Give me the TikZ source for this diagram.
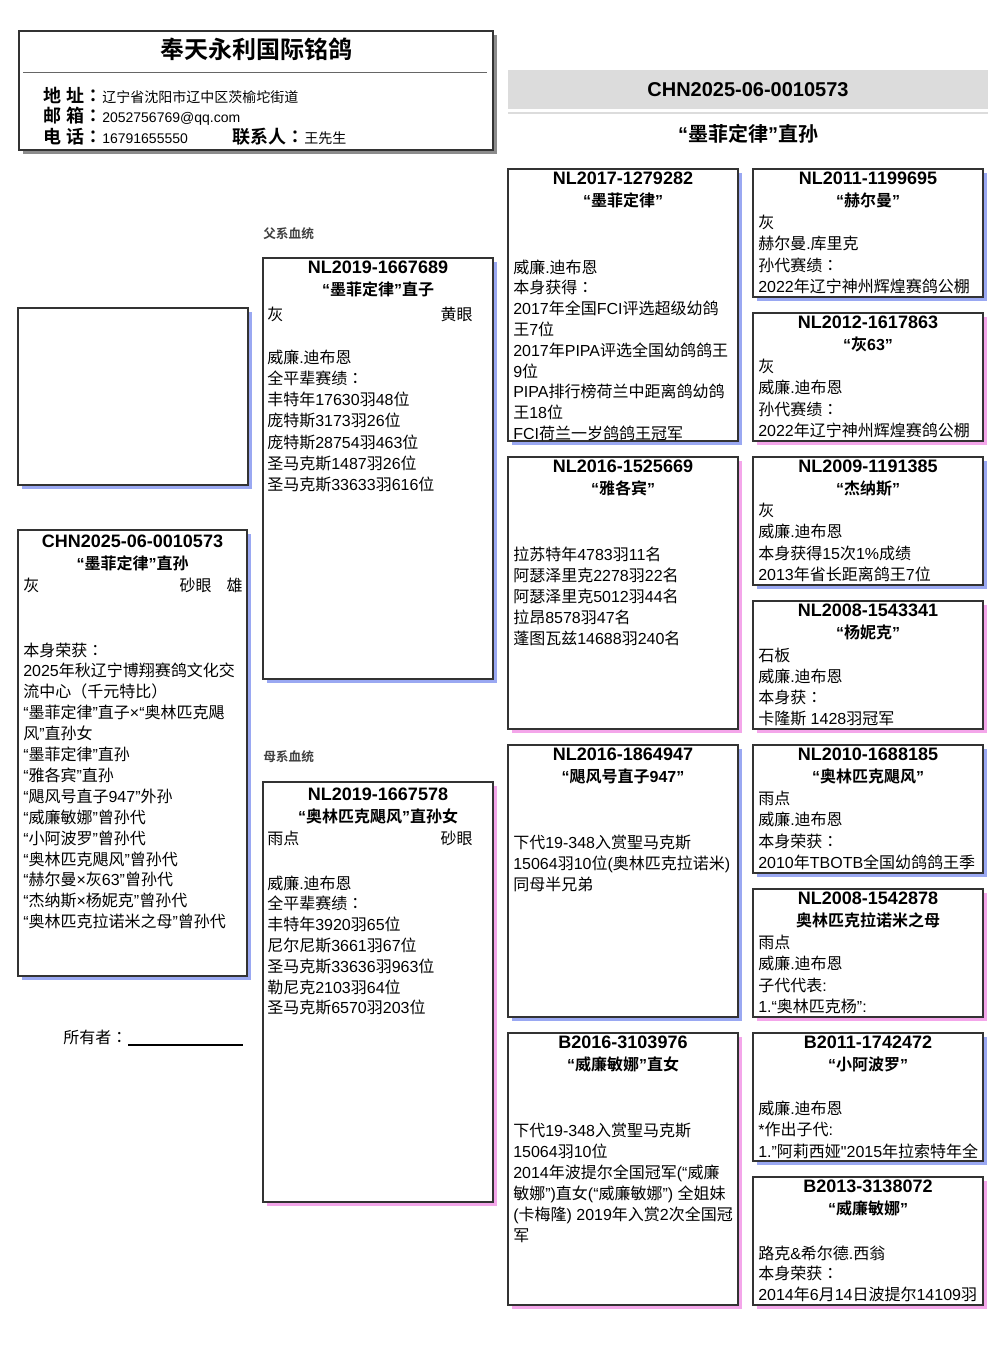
\documentclass[tikz,border=0pt]{standalone}
\usepackage{fontspec}
\setmainfont{Liberation Sans}
\newfontfamily\latinfont{Liberation Sans}
\newfontfamily\cjkfont[BoldFont={Noto Sans CJK SC Bold}]{Noto Sans CJK SC}
\newfontfamily\cjkcolfont[BoldFont={Noto Sans CJK TC Bold}]{Noto Sans CJK TC}
\XeTeXinterchartokenstate=1
\chardef\CJKcls=10
\chardef\COLcls=11
\makeatletter
\newcount\cjk@c
\newcommand\cjkrange[2]{\cjk@c=#1\relax\loop\XeTeXcharclass\cjk@c=\CJKcls\relax\ifnum\cjk@c<#2\relax\advance\cjk@c by 1\relax\repeat}
\makeatother
\cjkrange{"3000}{"303F}
\cjkrange{"3400}{"4DBF}
\cjkrange{"4E00}{"9FFF}
\cjkrange{"FF00}{"FFEF}
\XeTeXcharclass"FF1A=\COLcls
\XeTeXinterchartoks 0 \CJKcls = {\cjkfont}
\XeTeXinterchartoks 1 \CJKcls = {\cjkfont}
\XeTeXinterchartoks 2 \CJKcls = {\cjkfont}
\XeTeXinterchartoks 3 \CJKcls = {\cjkfont}
\XeTeXinterchartoks 4095 \CJKcls = {\cjkfont}
\XeTeXinterchartoks \COLcls \CJKcls = {\cjkfont}
\XeTeXinterchartoks \CJKcls 0 = {\latinfont}
\XeTeXinterchartoks \CJKcls 1 = {\latinfont}
\XeTeXinterchartoks \CJKcls 2 = {\latinfont}
\XeTeXinterchartoks \CJKcls 3 = {\latinfont}
\XeTeXinterchartoks \CJKcls 4095 = {\latinfont}
\XeTeXinterchartoks \CJKcls \COLcls = {\cjkcolfont}
\XeTeXinterchartoks 0 \COLcls = {\cjkcolfont}
\XeTeXinterchartoks 4095 \COLcls = {\cjkcolfont}
\XeTeXinterchartoks \COLcls 0 = {\latinfont}
\XeTeXinterchartoks \COLcls 4095 = {\latinfont}
\definecolor{shblue}{HTML}{9AA8F2}
\definecolor{shpink}{HTML}{F4A6EA}
\definecolor{bandgray}{HTML}{DCDCDC}
\tikzset{
  boxst/.style={draw=black!80, line width=1pt, fill=white, inner sep=0pt, outer sep=0pt},
  ttl/.style={font=\bfseries\fontsize{13.5}{16}\selectfont, inner sep=0pt},
  nm/.style={font=\bfseries\fontsize{12}{14}\selectfont, inner sep=0pt},
  bodyt/.style={font=\fontsize{12}{14}\selectfont, inner sep=0pt, anchor=base west},
  bodyr/.style={font=\fontsize{12}{14}\selectfont, inner sep=0pt, anchor=base east},
  lab/.style={font=\bfseries\fontsize{13.5}{16}\selectfont, inner sep=0pt, anchor=base west},
  val/.style={font=\fontsize{10.5}{12}\selectfont, inner sep=0pt, anchor=base west},
  sect/.style={font=\bfseries\fontsize{9.5}{11}\selectfont, text=black!75, inner sep=0pt, anchor=base west},
}
% name, x, y, w, h, shadow, id, name text, offset
\newcommand\pbox[9]{%
  \fill[#6] (#2+4,#3+4) rectangle (#2+#4+4,#3+#5+4);
  \node[boxst, minimum width=#4*0.75pt, minimum height=#5*0.75pt, anchor=north west] (#1) at (#2,#3) {};
  \node[ttl, anchor=base] (#1-id) at (#2+#4/2,#3+15.5+#9) {#7};
  \node[nm, anchor=base] (#1-nm) at (#2+#4/2,#3+37+#9) {#8};
}
% name, x, first baseline, pitch, list
\newcommand\plines[5]{%
  \foreach \t [count=\i from 0] in {#5} {\node[bodyt, name=#1-l\i] at (#2,#3+\i*#4) {\t};}
}
\begin{document}
\begin{tikzpicture}[x=0.75pt, y=-0.75pt]
\useasboundingbox (0,0) rectangle (1006,1366);
% header
\fill[black!45] (23,35) rectangle (497,154);
\node[boxst, minimum width=474*0.75pt, minimum height=119*0.75pt, anchor=north west] (hdr) at (19,31) {};
\node[font=\bfseries\fontsize{18}{20}\selectfont, inner sep=0pt, anchor=base] (htitle) at (256,59) {奉天永利国际铭鸽};
\draw[black!60, line width=0.75pt] (23,73) -- (487,73);
\node[lab] (l1) at (43,103) {地 址：};
\node[val] (v1) at (102,103) {辽宁省沈阳市辽中区茨榆坨街道};
\node[lab] (l2) at (43,123) {邮 箱：};
\node[val] (v2) at (102,123) {2052756769@qq.com};
\node[lab] (l3) at (43,144) {电 话：};
\node[val] (v3) at (102,144) {16791655550};
\node[lab] (l4) at (232,144) {联系人：};
\node[val] (v4) at (304,144) {王先生};
% band
\node[fill=bandgray, inner sep=0pt, outer sep=0pt, minimum width=480*0.75pt, minimum height=39*0.75pt, anchor=north west] (band) at (508,70) {};
\fill[bandgray] (508,112) rectangle (988,114);
\node[font=\bfseries\fontsize{15}{17}\selectfont, inner sep=0pt, anchor=base] (bandid) at (748,96.5) {CHN2025-06-0010573};
\node[font=\bfseries\fontsize{15}{17}\selectfont, inner sep=0pt, anchor=base] (bandnm) at (748,142) {“墨菲定律”直孙};
% section labels
\node[sect] (fsec) at (263,238) {父系血统};
\node[sect] (msec) at (263,761) {母系血统};
% photo
\fill[shblue] (22,312) rectangle (252,489);
\node[boxst, minimum width=230*0.75pt, minimum height=177*0.75pt, anchor=north west] (photo) at (18,308) {};
% main box
\pbox{main}{18}{530}{229}{446}{shblue}{CHN2025-06-0010573}{“墨菲定律”直孙}{2}
\node[bodyt] (main-c) at (23,591) {灰};
\node[bodyr] (main-e) at (212,591) {砂眼};
\node[bodyr] (main-s) at (243,591) {雄};
\plines{main}{23}{656}{20.9}{本身荣获：,2025年秋辽宁博翔赛鸽文化交,流中心（千元特比）,“墨菲定律”直子×“奥林匹克飓,风”直孙女,“墨菲定律”直孙,“雅各宾”直孙,“飓风号直子947”外孙,“威廉敏娜”曾孙代,“小阿波罗”曾孙代,“奥林匹克飓风”曾孙代,“赫尔曼×灰63”曾孙代,“杰纳斯×杨妮克”曾孙代,“奥林匹克拉诺米之母”曾孙代}
% owner
\node[bodyt] (owner) at (63,1043) {所有者：};
\draw[line width=0.8pt] (128,1045) -- (243,1045);
% father
\pbox{fa}{263}{258}{230}{421}{shblue}{NL2019-1667689}{“墨菲定律”直子}{0}
\node[bodyt] (fa-c) at (267,320) {灰};
\node[bodyr] (fa-e) at (473,320) {黄眼};
\plines{fa}{267}{363}{21.3}{威廉.迪布恩,全平辈赛绩：,丰特年17630羽48位,庞特斯3173羽26位,庞特斯28754羽463位,圣马克斯1487羽26位,圣马克斯33633羽616位}
% mother
\pbox{mo}{263}{782}{230}{420}{shpink}{NL2019-1667578}{“奥林匹克飓风”直孙女}{3}
\node[bodyt] (mo-c) at (267,844) {雨点};
\node[bodyr] (mo-e) at (473,844) {砂眼};
\plines{mo}{267}{889}{20.8}{威廉.迪布恩,全平辈赛绩：,丰特年3920羽65位,尼尔尼斯3661羽67位,圣马克斯33636羽963位,勒尼克2103羽64位,圣马克斯6570羽203位}
% column 3
\pbox{ga}{508}{169}{230}{272}{shblue}{NL2017-1279282}{“墨菲定律”}{0}
\begin{scope}
\clip (508,169) rectangle (738,440.5);
\plines{ga}{513}{273}{20.8}{威廉.迪布恩,本身获得：,2017年全国FCI评选超级幼鸽,王7位,2017年PIPA评选全国幼鸽鸽王,9位,PIPA排行榜荷兰中距离鸽幼鸽,王18位,FCI荷兰一岁鸽鸽王冠军}
\end{scope}
\pbox{gb}{508}{457}{230}{272}{shpink}{NL2016-1525669}{“雅各宾”}{0}
\plines{gb}{513}{560}{21}{拉苏特年4783羽11名,阿瑟泽里克2278羽22名,阿瑟泽里克5012羽44名,拉昂8578羽47名,蓬图瓦兹14688羽240名}
\pbox{gc}{508}{745}{230}{272}{shblue}{NL2016-1864947}{“飓风号直子947”}{0}
\plines{gc}{513}{848}{21}{下代19-348入赏聖马克斯,{15064羽10位(奥林匹克拉诺米)},同母半兄弟}
\pbox{gd}{508}{1033}{230}{272}{shpink}{B2016-3103976}{“威廉敏娜”直女}{0}
\plines{gd}{513}{1136}{21}{下代19-348入赏聖马克斯,15064羽10位,{2014年波提尔全国冠军(“威廉},{敏娜”)直女(“威廉敏娜”) 全姐妹},{(卡梅隆) 2019年入赏2次全国冠},军}
% column 4
\pbox{h1}{753}{169}{230}{128}{shblue}{NL2011-1199695}{“赫尔曼”}{0}
\plines{h1}{758}{228}{21.5}{灰,赫尔曼.库里克,孙代赛绩：,2022年辽宁神州辉煌赛鸽公棚}
\pbox{h2}{753}{313}{230}{128}{shpink}{NL2012-1617863}{“灰63”}{0}
\plines{h2}{758}{372}{21.5}{灰,威廉.迪布恩,孙代赛绩：,2022年辽宁神州辉煌赛鸽公棚}
\pbox{h3}{753}{457}{230}{128}{shblue}{NL2009-1191385}{“杰纳斯”}{0}
\plines{h3}{758}{516}{21.5}{灰,威廉.迪布恩,本身获得15次1\%成绩,2013年省长距离鸽王7位}
\pbox{h4}{753}{601}{230}{128}{shpink}{NL2008-1543341}{“杨妮克”}{0}
\plines{h4}{758}{661}{21.2}{石板,威廉.迪布恩,本身获：,卡隆斯 1428羽冠军}
\pbox{h5}{753}{745}{230}{128}{shblue}{NL2010-1688185}{“奥林匹克飓风”}{0}
\plines{h5}{758}{804}{21.5}{雨点,威廉.迪布恩,本身荣获：,2010年TBOTB全国幼鸽鸽王季}
\pbox{h6}{753}{889}{230}{128}{shpink}{NL2008-1542878}{奥林匹克拉诺米之母}{0}
\plines{h6}{758}{948}{21.5}{雨点,威廉.迪布恩,子代代表:,1.“奥林匹克杨”:}
\pbox{h7}{753}{1033}{230}{128}{shblue}{B2011-1742472}{“小阿波罗”}{0}
\plines{h7}{758}{1114}{21.5}{威廉.迪布恩,*作出子代:,1."阿莉西娅"2015年拉索特年全}
\pbox{h8}{753}{1177}{230}{128}{shpink}{B2013-3138072}{“威廉敏娜”}{0}
\plines{h8}{758}{1259}{20.8}{路克\&希尔德.西翁,本身荣获：,2014年6月14日波提尔14109羽}
\end{tikzpicture}
\end{document}
